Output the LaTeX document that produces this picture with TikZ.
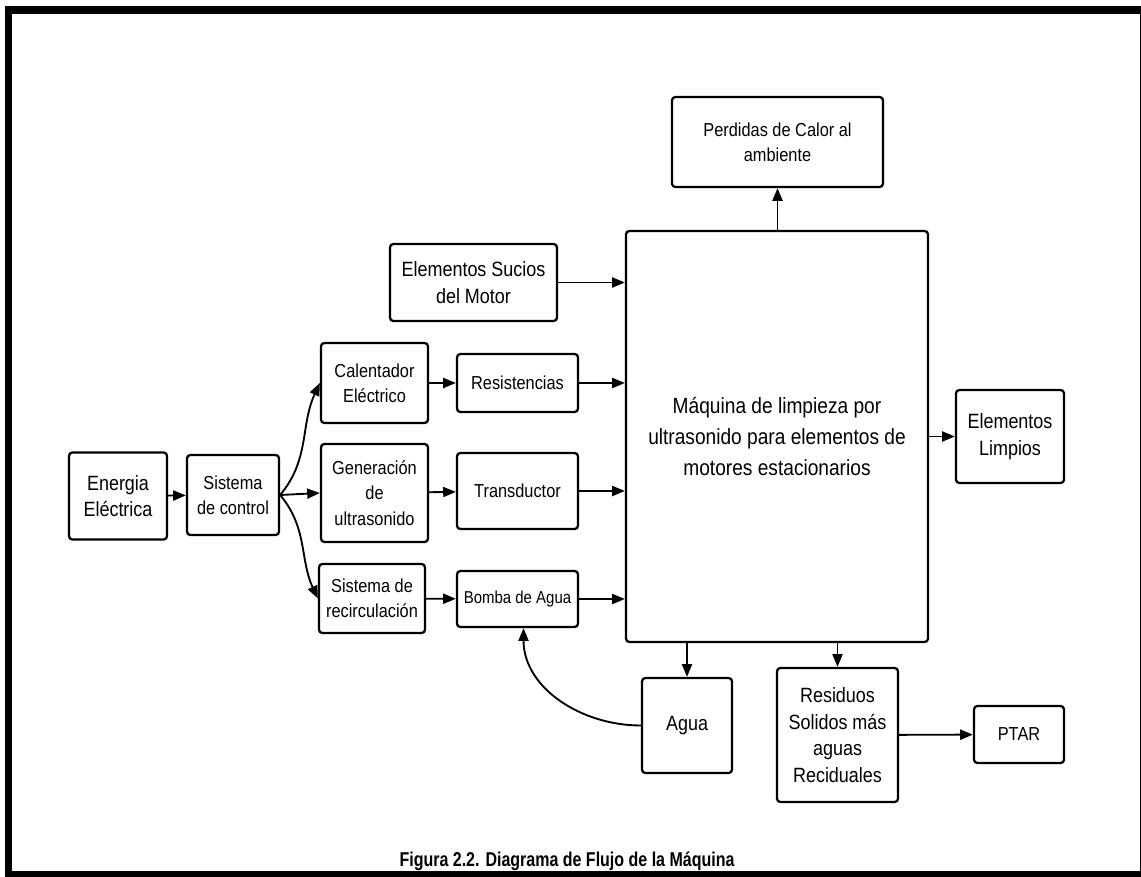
\documentclass[tikz,border=0pt]{standalone}
\usepackage{fontspec}
\setmainfont{Liberation Sans}
\newfontfamily\boxfont{Liberation Sans}[FakeStretch=0.87]
\newfontfamily\capfont{Liberation Sans}[FakeStretch=0.8]
\usetikzlibrary{arrows.meta}

\begin{document}
\begin{tikzpicture}[x=0.75pt,y=-0.75pt,
  blk/.style={draw=black,line width=1.7pt,rounded corners=2.5pt,fill=white,align=center,inner sep=0pt},
  bigtxt/.style={font=\boxfont\fontsize{15.5}{20}\selectfont},
  midtxt/.style={font=\boxfont\fontsize{14.1}{19}\selectfont},
  smalltxt/.style={font=\boxfont\fontsize{12.9}{16}\selectfont},
  flow/.style={line width=1.4pt,-{Triangle[length=9.5pt,width=7.5pt]}}]
\useasboundingbox (0,0) rectangle (1141,877);
\fill[black] (5,6) rectangle (1141,877);
\fill[white] (12,14) rectangle (1139.5,871);

\draw (118,496) node[blk,bigtxt,minimum width=73.5pt,minimum height=65.25pt] (energia) {Energia\\Eléctrica};
\draw (233,495) node[blk,midtxt,minimum width=69pt,minimum height=60pt] (control) {Sistema\\de control};
\draw (374.5,383) node[blk,midtxt,minimum width=80.25pt,minimum height=60pt] (calentador) {Calentador\\Eléctrico};
\draw (374.5,493) node[blk,midtxt,minimum width=80.25pt,minimum height=73.5pt] (generacion) {Generación\\de\\ultrasonido};
\draw (372,598.5) node[blk,midtxt,minimum width=79.5pt,minimum height=51.75pt] (recirc) {Sistema de\\recirculación};
\draw (517.5,383) node[blk,midtxt,minimum width=90.75pt,minimum height=43.5pt] (resist) {Resistencias};
\draw (517.5,491) node[blk,midtxt,minimum width=90.75pt,minimum height=57pt] (transd) {Transductor};
\draw (517.5,599) node[blk,smalltxt,minimum width=90.75pt,minimum height=42pt] (bomba) {Bomba de Agua};
\draw (473.5,282.5) node[blk,bigtxt,minimum width=125.25pt,minimum height=57.75pt] (sucios) {Elementos Sucios\\del Motor};
\draw (777.5,142) node[blk,midtxt,minimum width=158.25pt,minimum height=67.5pt] (perdidas) {Perdidas de Calor al\\ambiente};
\draw (777,436.5) node[blk,font=\boxfont\fontsize{16.5}{23}\selectfont,minimum width=226.5pt,minimum height=308.25pt] (maquina) {Máquina de limpieza por\\ultrasonido para elementos de\\motores estacionarios};
\draw (1010,436.5) node[blk,bigtxt,minimum width=81pt,minimum height=69.75pt] (limpios) {Elementos\\Limpios};
\draw (687,725.5) node[blk,bigtxt,minimum width=67.5pt,minimum height=71.25pt] (agua) {Agua};
\draw (837.5,735) node[blk,bigtxt,minimum width=90.75pt,minimum height=100.5pt] (residuos) {Residuos\\Solidos más\\aguas\\Reciduales};
\draw (1019,734.5) node[blk,midtxt,minimum width=67.5pt,minimum height=42.75pt] (ptar) {PTAR};

\draw[flow] (energia) -- (control);
\draw[flow] (control.east) to[out=50,in=-115] (calentador.west);
\draw[flow] (control.east) -- (generacion.west);
\draw[flow] (control.east) to[out=-50,in=115] (recirc.west);
\draw[flow] (calentador) -- (resist);
\draw[flow] (generacion) -- (transd);
\draw[flow] (recirc) -- (bomba);
\draw[flow] (sucios.east) -- (sucios.east -| maquina.west);
\draw[flow] (resist.east) -- (resist.east -| maquina.west);
\draw[flow] (transd.east) -- (transd.east -| maquina.west);
\draw[flow] (bomba.east) -- (bomba.east -| maquina.west);
\draw[flow] (maquina.north -| perdidas.south) -- (perdidas.south);
\draw[flow] (limpios.west -| maquina.east) -- (limpios.west);
\draw[flow] (agua.north |- maquina.south) -- (agua.north);
\draw[flow] (residuos.north |- maquina.south) -- (residuos.north);
\draw[flow] (residuos) -- (ptar);
\draw[flow] (agua.west) to[out=180,in=-90] ([xshift=4.5pt]bomba.south);

\draw (567,866) node[anchor=base,font=\capfont\fontsize{15}{17}\selectfont\bfseries] (caption) {Figura 2.2. Diagrama de Flujo de la Máquina};
\end{tikzpicture}
\end{document}
